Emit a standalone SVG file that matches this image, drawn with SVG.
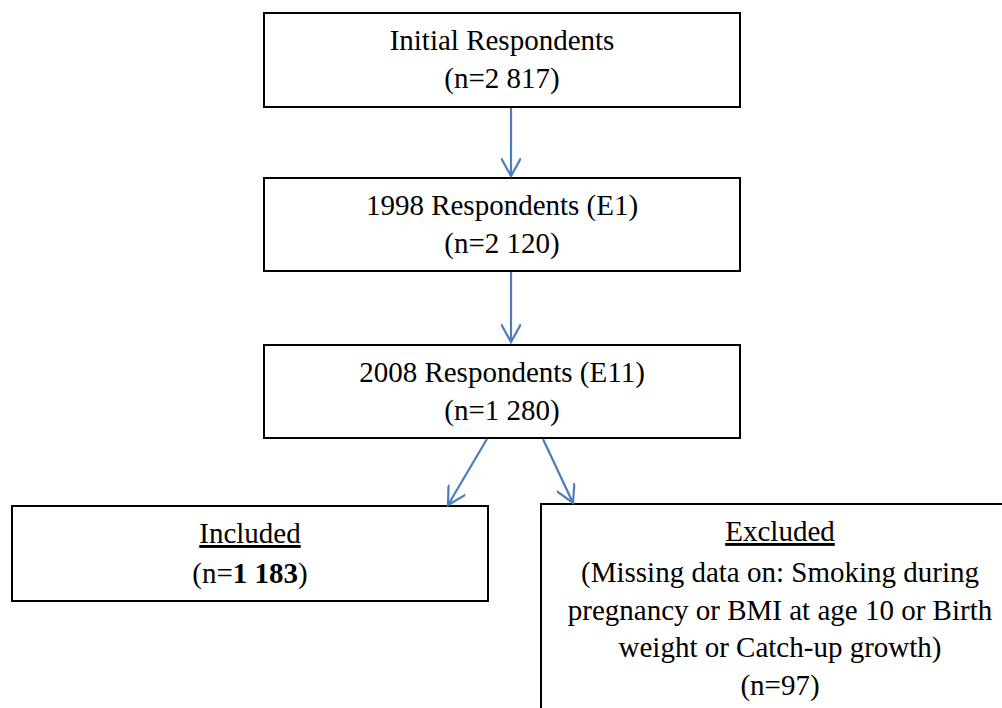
<svg xmlns="http://www.w3.org/2000/svg" width="1002" height="708" viewBox="0 0 1002 708">
<defs>
<style>
.box{fill:#fff;stroke:#000;stroke-width:2}
.t{font-family:"Liberation Serif","Times New Roman",serif;font-size:29px;fill:#000;text-anchor:middle}
.c{stroke:#4a7ebb;stroke-width:2.2;fill:none}
</style>
<marker id="ah" viewBox="0 0 20 20" refX="18" refY="10" markerWidth="20" markerHeight="20" markerUnits="userSpaceOnUse" orient="auto">
<path d="M0,0 L18,10 L0,20" fill="none" stroke="#4a7ebb" stroke-width="2.2"/>
</marker>
</defs>
<rect width="1002" height="708" fill="#fff"/>
<g id="n1">
<rect class="box" x="264" y="13" width="476" height="94"/>
<text class="t" x="502" y="50">Initial Respondents</text>
<text class="t" x="502" y="88">(n=2 817)</text>
</g>
<g id="n2">
<rect class="box" x="264" y="178" width="476" height="93"/>
<text class="t" x="502" y="215">1998 Respondents (E1)</text>
<text class="t" x="502" y="253">(n=2 120)</text>
</g>
<g id="n3">
<rect class="box" x="264" y="345" width="476" height="93"/>
<text class="t" x="502" y="382">2008 Respondents (E11)</text>
<text class="t" x="502" y="420">(n=1 280)</text>
</g>
<g id="n4">
<rect class="box" x="12" y="506" width="476" height="95"/>
<text class="t" x="250" y="543" text-decoration="underline">Included</text>
<text class="t" x="250" y="583">(n=<tspan font-weight="bold">1 183</tspan>)</text>
</g>
<g id="n5">
<rect class="box" x="541" y="504" width="480" height="220"/>
<text class="t" x="780" y="541" text-decoration="underline">Excluded</text>
<text class="t" x="780" y="582">(Missing data on: Smoking during</text>
<text class="t" x="780" y="620">pregnancy or BMI at age 10 or Birth</text>
<text class="t" x="780" y="657">weight or Catch-up growth)</text>
<text class="t" x="780" y="695">(n=97)</text>
</g>
<g id="connectors">
<line class="c" x1="511" y1="108" x2="511" y2="176" marker-end="url(#ah)"/>
<line class="c" x1="511" y1="272" x2="511" y2="342" marker-end="url(#ah)"/>
<line class="c" x1="487" y1="439" x2="448" y2="505" marker-end="url(#ah)"/>
<line class="c" x1="543" y1="439" x2="573" y2="503" marker-end="url(#ah)"/>
</g>
</svg>
